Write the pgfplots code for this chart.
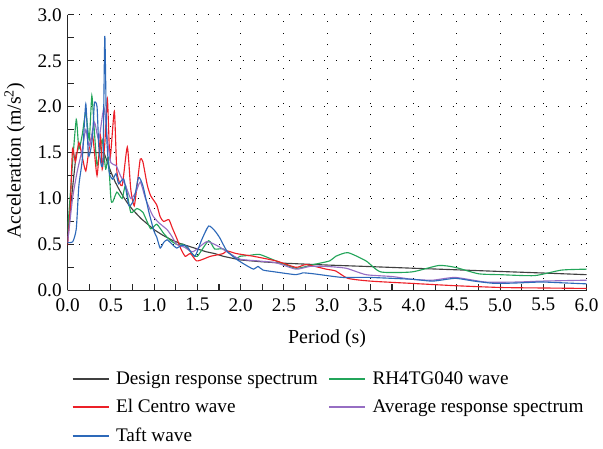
\documentclass[border=0pt]{standalone}
\usepackage{pgfplots}
\pgfplotsset{compat=1.18}
\usepackage{fontspec}
\setmainfont{Liberation Serif}
\definecolor{cdes}{RGB}{64,64,64}
\definecolor{cred}{RGB}{236,32,40}
\definecolor{cblue}{RGB}{45,105,185}
\definecolor{cgreen}{RGB}{35,165,90}
\definecolor{cpurp}{RGB}{150,110,195}
\begin{document}
\begin{tikzpicture}
\begin{axis}[
  name=ax,
  scale only axis,
  width=391.5pt, height=207.75pt,
  xmin=0, xmax=6, ymin=0, ymax=3,
  axis lines=left,
  axis line style={-, line width=0.9pt, black!85},
  tick align=inside,
  xtick={0,0.5,...,6}, ytick={0,0.5,...,3},
  minor xtick={0.25,0.75,...,5.75}, minor ytick={0.25,0.75,...,2.75},
  major tick length=5pt, minor tick length=5pt,
  tick style={line width=0.8pt, black!85},
  grid=major,
  major grid style={black, line width=0.8pt, dash pattern=on 0.8pt off 8pt},
  minor grid style={draw=none},
  ticklabel style={font=\fontsize{14.5}{15}\selectfont},
  /pgf/number format/assume math mode=true,
  xticklabel style={yshift=-2.5pt, /pgf/number format/fixed, /pgf/number format/fixed zerofill, /pgf/number format/precision=1},
  yticklabel style={xshift=-1pt, /pgf/number format/fixed, /pgf/number format/fixed zerofill, /pgf/number format/precision=1},
  xlabel={Period (s)},
  ylabel={Acceleration (m/s\textsuperscript{2})},
  label style={font=\fontsize{15}{16}\selectfont},
  xlabel style={at={([yshift=-36.5pt]axis description cs:0.5,0)}, anchor=center},
  ylabel style={at={([xshift=-40pt]axis description cs:0,0.47)}, anchor=center},
  legend columns=2,
  legend cell align=left,
  legend style={draw=none, fill=none, at={([yshift=-57pt]axis description cs:0,0)}, anchor=north west,
    font=\fontsize{14.5}{15}\selectfont, row sep=6pt,
    /tikz/every odd column/.append style={column sep=3pt},
    /tikz/every even column/.append style={column sep=6pt}},
  legend image code/.code={\draw[#1, line width=1.3pt] (0pt,0pt) -- (27pt,0pt);},
  every axis plot/.append style={line width=0.85pt, smooth, tension=0.35},
]
\addplot[cdes, sharp plot] coordinates {(0,0.6)(0.1,1.5)(0.42,1.5)(0.45,1.42)(0.5,1.29)(0.55,1.18)(0.6,1.09)(0.65,1.01)(0.7,0.94)(0.75,0.88)(0.8,0.83)(0.85,0.78)(0.9,0.74)(0.95,0.70)(1.0,0.66)(1.1,0.60)(1.2,0.55)(1.3,0.51)(1.4,0.48)(1.5,0.45)(1.6,0.42)(1.7,0.40)(1.8,0.37)(1.9,0.35)(2.0,0.33)(2.25,0.31)(2.5,0.295)(3.0,0.275)(3.5,0.258)(4.0,0.24)(4.5,0.223)(5.0,0.205)(5.5,0.188)(6.0,0.17)};
\addlegendentry{Design response spectrum}
\addplot[cgreen] coordinates {(0,0.64)(0.05,1.30)(0.10,1.86)(0.13,1.54)(0.17,1.70)(0.21,1.94)(0.25,1.64)(0.28,2.12)(0.31,1.72)(0.34,1.36)(0.37,1.50)(0.40,1.64)(0.44,1.32)(0.47,1.45)(0.50,1.00)(0.52,0.96)(0.57,1.07)(0.63,1.00)(0.67,1.14)(0.73,0.85)(0.80,0.89)(0.87,0.85)(0.96,0.67)(1.03,0.72)(1.11,0.62)(1.18,0.55)(1.26,0.50)(1.34,0.50)(1.45,0.39)(1.50,0.37)(1.63,0.54)(1.70,0.45)(1.80,0.45)(1.95,0.35)(1.99,0.37)(2.10,0.38)(2.22,0.39)(2.41,0.32)(2.64,0.24)(2.84,0.28)(3.03,0.32)(3.10,0.37)(3.24,0.41)(3.45,0.32)(3.62,0.20)(3.98,0.20)(4.29,0.27)(4.48,0.25)(4.75,0.18)(5.0,0.17)(5.40,0.16)(5.71,0.22)(6.00,0.23)};
\addlegendentry{RH4TG040 wave}
\addplot[cred] coordinates {(0,0.49)(0.03,0.9)(0.057,1.54)(0.09,1.40)(0.13,1.61)(0.17,1.45)(0.21,1.30)(0.25,1.55)(0.29,1.68)(0.34,1.25)(0.38,1.68)(0.40,1.32)(0.43,1.60)(0.46,2.08)(0.49,1.43)(0.54,1.95)(0.57,1.29)(0.63,1.14)(0.69,1.56)(0.73,1.10)(0.77,0.92)(0.81,1.20)(0.84,1.43)(0.87,1.40)(0.92,1.15)(0.96,1.03)(1.03,0.93)(1.07,0.80)(1.11,0.75)(1.17,0.77)(1.21,0.68)(1.26,0.57)(1.31,0.45)(1.36,0.37)(1.42,0.40)(1.49,0.32)(1.57,0.34)(1.65,0.37)(1.80,0.40)(1.84,0.43)(1.95,0.40)(2.15,0.37)(2.41,0.32)(2.64,0.25)(2.76,0.28)(2.99,0.23)(3.10,0.21)(3.24,0.13)(3.5,0.10)(3.98,0.075)(4.48,0.05)(5.02,0.03)(5.5,0.025)(6.0,0.02)};
\addlegendentry{El Centro wave}
\addplot[cpurp] coordinates {(0,0.52)(0.057,1.00)(0.11,1.29)(0.17,1.54)(0.21,1.75)(0.25,1.57)(0.31,1.83)(0.36,1.64)(0.42,1.99)(0.46,1.64)(0.50,1.39)(0.56,1.36)(0.61,1.25)(0.67,1.14)(0.73,1.00)(0.79,1.07)(0.84,1.18)(0.90,1.00)(0.98,0.82)(1.05,0.74)(1.15,0.66)(1.21,0.58)(1.26,0.50)(1.35,0.47)(1.45,0.42)(1.61,0.53)(1.76,0.47)(1.84,0.42)(1.99,0.34)(2.20,0.32)(2.41,0.30)(2.64,0.23)(2.80,0.26)(2.99,0.26)(3.22,0.24)(3.45,0.17)(3.75,0.15)(3.98,0.12)(4.22,0.11)(4.48,0.14)(4.83,0.09)(5.2,0.09)(5.48,0.10)(6.0,0.11)};
\addlegendentry{Average response spectrum}
\addplot[cblue] coordinates {(0,0.52)(0.06,0.53)(0.10,0.67)(0.13,1.14)(0.17,1.43)(0.21,2.03)(0.24,1.47)(0.27,1.55)(0.29,1.70)(0.31,2.04)(0.34,2.00)(0.36,1.57)(0.39,1.36)(0.41,1.45)(0.43,2.77)(0.45,1.72)(0.48,1.29)(0.52,1.21)(0.56,1.27)(0.59,1.16)(0.65,1.21)(0.71,0.92)(0.77,1.00)(0.82,1.23)(0.87,1.14)(0.94,0.85)(1.00,0.64)(1.03,0.58)(1.07,0.46)(1.11,0.52)(1.15,0.55)(1.21,0.50)(1.26,0.46)(1.32,0.49)(1.38,0.48)(1.47,0.37)(1.55,0.55)(1.63,0.70)(1.70,0.65)(1.76,0.57)(1.84,0.43)(1.95,0.34)(2.05,0.28)(2.15,0.23)(2.20,0.26)(2.26,0.22)(2.40,0.20)(2.64,0.17)(2.72,0.19)(2.84,0.18)(3.00,0.16)(3.18,0.14)(3.49,0.14)(3.98,0.12)(4.22,0.10)(4.48,0.13)(4.70,0.10)(4.94,0.075)(5.20,0.08)(5.48,0.09)(5.75,0.08)(6.00,0.07)};
\addlegendentry{Taft wave}
\end{axis}
\path ([yshift=11.25pt]ax.north);
\end{tikzpicture}
\end{document}
